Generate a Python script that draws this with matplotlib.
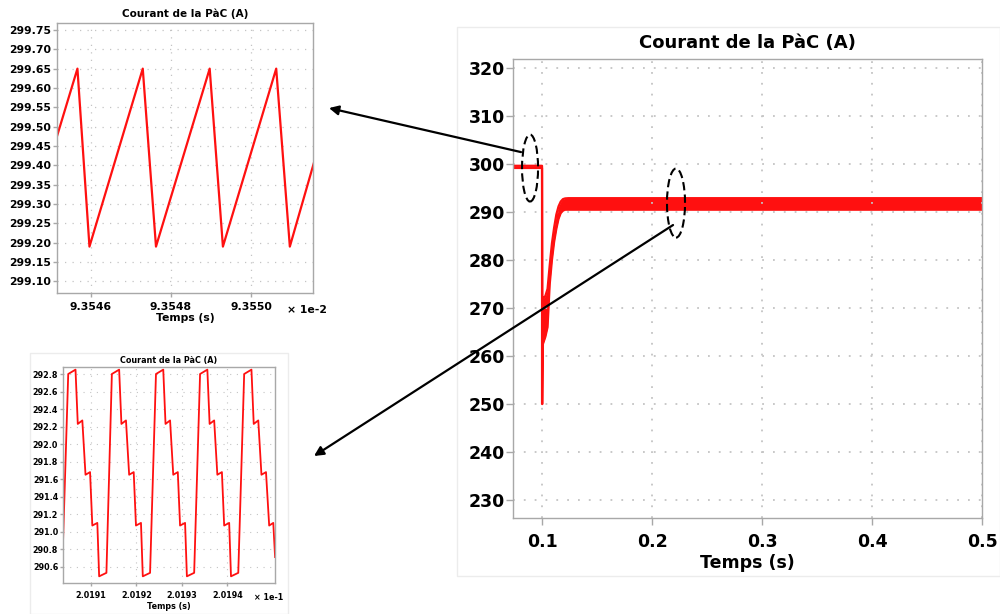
import matplotlib
matplotlib.use("Agg")
import matplotlib.pyplot as plt
from matplotlib.patches import Ellipse, ConnectionPatch, Rectangle

plt.rcParams['font.family'] = ['DejaVu Sans']
plt.rcParams['font.weight'] = 'bold'

titre = "Courant de la PàC (A)"
xlabel = "Temps (s)"

# zoom 1 : temps en 1e-2 s
t_z1 = [9.354513, 9.354567, 9.354597, 9.354730, 9.354763, 9.354897, 9.354930, 9.355063, 9.355097, 9.355158]
i_z1 = [299.465, 299.65, 299.19, 299.65, 299.19, 299.65, 299.19, 299.65, 299.19, 299.41]
xt_z1 = [9.3546, 9.3548, 9.3550]
yt_z1 = [299.10, 299.15, 299.20, 299.25, 299.30, 299.35, 299.40, 299.45, 299.50, 299.55, 299.60, 299.65, 299.70, 299.75]

# zoom 2 : temps en 1e-1 s
t_z2 = [2.0190385,
        2.019050, 2.019066, 2.019071, 2.019081, 2.019088, 2.019098, 2.019103, 2.019114, 2.019118, 2.019134,
        2.019146, 2.019162, 2.019167, 2.019177, 2.019184, 2.019194, 2.019199, 2.019210, 2.019214, 2.019230,
        2.019243, 2.019259, 2.019264, 2.019274, 2.019281, 2.019291, 2.019296, 2.019307, 2.019311, 2.019327,
        2.019340, 2.019356, 2.019361, 2.019371, 2.019378, 2.019388, 2.019393, 2.019404, 2.019408, 2.019424,
        2.019437, 2.019453, 2.019458, 2.019468, 2.019475, 2.019485, 2.019492, 2.019501, 2.019505]
i_z2 = [290.87,
        292.80, 292.85, 292.23, 292.27, 291.65, 291.68, 291.07, 291.10, 290.49, 290.53,
        292.80, 292.85, 292.23, 292.27, 291.65, 291.68, 291.07, 291.10, 290.49, 290.53,
        292.80, 292.85, 292.23, 292.27, 291.65, 291.68, 291.07, 291.10, 290.49, 290.53,
        292.80, 292.85, 292.23, 292.27, 291.65, 291.68, 291.07, 291.10, 290.49, 290.53,
        292.80, 292.85, 292.23, 292.27, 291.65, 291.68, 291.07, 291.10, 290.71]
xt_z2 = [2.0191, 2.0192, 2.0193, 2.0194]
yt_z2 = [290.6, 290.8, 291.0, 291.2, 291.4, 291.6, 291.8, 292.0, 292.2, 292.4, 292.6, 292.8]

# courbe principale (enveloppe de l'ondulation)
t_main = [0.0736, 0.1000, 0.1000, 0.1003, 0.1008, 0.1030, 0.1050, 0.1070, 0.1090, 0.1110,
          0.1130, 0.1150, 0.1170, 0.1190, 0.1210, 0.1240, 0.2000, 0.3000, 0.4000, 0.5000]
i_hi = [299.65, 299.65, 299.65, 271.0, 272.0, 272.5, 274.0, 279.0, 283.5, 286.8,
        289.5, 291.2, 292.2, 292.7, 292.85, 292.9, 292.9, 292.9, 292.9, 292.9]
i_lo = [299.19, 299.19, 250.0, 250.0, 262.5, 264.0, 266.0, 275.0, 280.0, 283.8,
        286.5, 288.6, 289.8, 290.3, 290.5, 290.5, 290.5, 290.5, 290.5, 290.5]
xt_main = [0.1, 0.2, 0.3, 0.4, 0.5]
yt_main = [230, 240, 250, 260, 270, 280, 290, 300, 310, 320]

rouge = '#ff1010'
gris = '#a8a8a8'
grille = '#c4c4c4'


def style(ax, fs, tl, lwg):
    for s in ax.spines.values():
        s.set_color(gris)
        s.set_linewidth(1.0)
    ax.tick_params(colors=gris, labelcolor='black', labelsize=fs, length=tl, width=1.0)
    for lab in ax.get_xticklabels() + ax.get_yticklabels():
        lab.set_fontweight('bold')
    ax.grid(True, color=grille, linestyle=(0, (1, 5)), linewidth=lwg)


fig = plt.figure(figsize=(10, 6.14), dpi=100)
W, H = 1000, 614


def px_axes(l, t, r, b):
    return fig.add_axes([l / W, (H - b) / H, (r - l) / W, (b - t) / H])


# cadres légers des captures
fig.add_artist(Rectangle((457 / W, (H - 576) / H), (1000 - 457) / W, (576 - 27) / H,
                         transform=fig.transFigure, fill=False, ec='#ececec', lw=1))
fig.add_artist(Rectangle((30 / W, 0), (288 - 30) / W, (H - 353) / H,
                         transform=fig.transFigure, fill=False, ec='#ececec', lw=1))

# --- graphe principal
ax = px_axes(513, 59, 982, 518)
ax.fill_between(t_main, i_lo, i_hi, color=rouge, lw=0)
ax.plot(t_main, i_hi, color=rouge, lw=1.6)
ax.plot(t_main, i_lo, color=rouge, lw=1.6)
ax.set_xlim(0.0736, 0.5)
ax.set_ylim(226.25, 321.9)
ax.set_xticks(xt_main)
ax.set_xticklabels([f"{v:g}" for v in xt_main])
ax.set_yticks(yt_main)
ax.set_yticklabels([str(v) for v in yt_main])
style(ax, 12.5, 5, 1.3)
ax.tick_params(axis='x', pad=6)
ax.tick_params(axis='y', pad=1)
ax.set_title(titre, fontsize=13, fontweight='bold', pad=8)
ax.set_xlabel(xlabel, fontsize=12.5, fontweight='bold', labelpad=2)

e1 = Ellipse((0.0891, 299.17), 0.01455, 13.96, fill=False, ec='black', lw=1.5, ls=(0, (4, 2)), zorder=5)
e2 = Ellipse((0.2218, 291.875), 0.0164, 14.4, fill=False, ec='black', lw=1.5, ls=(0, (4, 2)), zorder=5)
ax.add_patch(e1)
ax.add_patch(e2)

# --- zoom 1
ax1 = px_axes(57, 23, 313, 293)
ax1.plot(t_z1, i_z1, color=rouge, lw=1.6)
ax1.set_xlim(9.354516, 9.3551548)
ax1.set_ylim(299.07, 299.768)
ax1.set_xticks(xt_z1)
ax1.set_xticklabels([f"{v:.4f}" for v in xt_z1])
ax1.set_yticks(yt_z1)
ax1.set_yticklabels([f"{v:.2f}" for v in yt_z1])
style(ax1, 7.8, 3, 0.9)
ax1.tick_params(axis='y', pad=1)
ax1.set_title(titre, fontsize=7.5, fontweight='bold', pad=4)
ax1.set_xlabel(xlabel, fontsize=7.8, fontweight='bold', labelpad=1)
ax1.text(0.977, -0.045, "× 1e-2", transform=ax1.transAxes, ha='center', va='top',
         fontsize=7.8, fontweight='bold')

# --- zoom 2
ax2 = px_axes(63, 367, 275, 583)
ax2.plot(t_z2, i_z2, color=rouge, lw=1.3)
ax2.set_xlim(2.0190385, 2.0195048)
ax2.set_ylim(290.414, 292.88)
ax2.set_xticks(xt_z2)
ax2.set_xticklabels([f"{v:.4f}" for v in xt_z2])
ax2.set_yticks(yt_z2)
ax2.set_yticklabels([f"{v:.1f}" for v in yt_z2])
style(ax2, 5.8, 2.5, 0.8)
ax2.tick_params(axis='y', pad=1)
ax2.set_title(titre, fontsize=5.8, fontweight='bold', pad=3)
ax2.set_xlabel(xlabel, fontsize=5.8, fontweight='bold', labelpad=1)
ax2.text(0.97, -0.045, "× 1e-1", transform=ax2.transAxes, ha='center', va='top',
         fontsize=5.8, fontweight='bold')

# --- flèches
fl1 = ConnectionPatch(xyA=(0.0809, 302.5), coordsA=ax.transData,
                      xyB=(1.0625, 0.685), coordsB=ax1.transAxes,
                      arrowstyle='-|>', mutation_scale=14, lw=1.6, color='black', zorder=10)
fl2 = ConnectionPatch(xyA=(0.2191, 287.3), coordsA=ax.transData,
                      xyB=(1.184, 0.588), coordsB=ax2.transAxes,
                      arrowstyle='-|>', mutation_scale=14, lw=1.6, color='black', zorder=10)
fig.add_artist(fl1)
fig.add_artist(fl2)

fig.savefig("out.png", dpi=100)
